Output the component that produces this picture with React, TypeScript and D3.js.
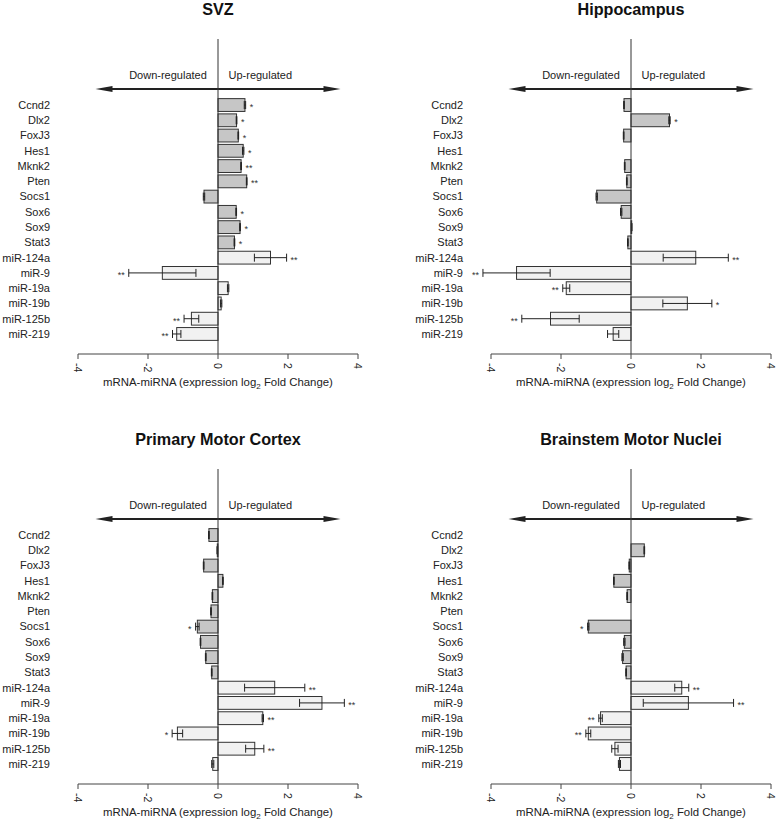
import React from "react";
import * as d3 from "d3";

const categories = ["Ccnd2","Dlx2","FoxJ3","Hes1","Mknk2","Pten","Socs1","Sox6","Sox9","Stat3","miR-124a","miR-9","miR-19a","miR-19b","miR-125b","miR-219"];
const isMiRNA = [false,false,false,false,false,false,false,false,false,false,true,true,true,true,true,true];
const ticks = [-4,-2,0,2,4];

const svzValues = [0.77,0.53,0.58,0.72,0.66,0.82,-0.40,0.52,0.63,0.47,1.50,-1.59,0.29,0.09,-0.76,-1.18];
const svzErr = [0.02,0.01,0.01,0.02,0.01,0.01,0.02,0.01,0.01,0.01,0.46,0.96,0.02,0.02,0.21,0.12];
const svzSig = ["*","*","*","*","**","**","","*","*","*","**","**","","","**","**"];

const hipValues = [-0.20,1.10,-0.21,0.0,-0.18,-0.12,-0.98,-0.28,0.02,-0.09,1.85,-3.27,-1.85,1.61,-2.30,-0.51];
const hipErr = [0.01,0.02,0.01,0,0.01,0.01,0.02,0.02,0.01,0.01,0.93,0.96,0.10,0.70,0.82,0.16];
const hipSig = ["","*","","","","","","","","","**","**","**","*","**",""];

const pmcValues = [-0.26,-0.02,-0.41,0.14,-0.16,-0.20,-0.59,-0.50,-0.35,-0.18,1.62,2.97,1.28,-1.16,1.05,-0.15];
const pmcErr = [0.01,0.01,0.01,0.01,0.01,0.01,0.05,0.01,0.01,0.01,0.86,0.64,0.02,0.15,0.26,0.03];
const pmcSig = ["","","","","","","*","","","","**","**","**","*","**",""];

const bmnValues = [0.0,0.38,-0.05,-0.49,-0.11,0.0,-1.22,-0.19,-0.24,-0.14,1.45,1.64,-0.87,-1.22,-0.46,-0.33];
const bmnErr = [0,0.01,0.01,0.01,0.01,0,0.02,0.02,0.02,0.01,0.20,1.29,0.05,0.07,0.09,0.03];
const bmnSig = ["","","","","","","*","","","","**","**","**","**","",""];

const FONT = "'Liberation Sans', Arial, Helvetica, sans-serif";

function Panel({ title, values, errs, sigs, cx, oy }) {
  const x = d3.scaleLinear().domain([-4, 4]).range([cx - 140, cx + 140]);
  const y = d3.scaleBand().domain(categories).range([oy + 97.4, oy + 341.6]).paddingInner(0.16).paddingOuter(0.08);
  const bh = y.bandwidth();
  const axisY = oy + 354;
  const arrowY = oy + 89;
  const xl = x(-3.5), xr = x(3.5);
  const headL = 17, headW = 3;
  return (
    <g>
      <text x={x(0)} y={oy + 15} textAnchor="middle" fontFamily={FONT} fontWeight="bold" fontSize={16.2} fill="#111">{title}</text>
      <text x={x(-0.32)} y={oy + 79} textAnchor="end" fontFamily={FONT} fontSize={11} fill="#222">Down-regulated</text>
      <text x={x(0.3)} y={oy + 79} textAnchor="start" fontFamily={FONT} fontSize={11} fill="#222">Up-regulated</text>
      <line x1={xl + headL - 2} x2={xr - headL + 2} y1={arrowY} y2={arrowY} stroke="#222" strokeWidth={1.8} />
      <polygon points={`${xl},${arrowY} ${xl + headL},${arrowY - headW} ${xl + headL},${arrowY + headW}`} fill="#222" />
      <polygon points={`${xr},${arrowY} ${xr - headL},${arrowY - headW} ${xr - headL},${arrowY + headW}`} fill="#222" />
      {categories.map((c, i) => {
        const v = values[i];
        const yy = y(c);
        const x0 = x(Math.min(0, v));
        const w = Math.abs(x(v) - x(0));
        return (
          <g key={c}>
            <text x={x(0) - 168} y={yy + bh / 2} dy="0.35em" textAnchor="end" fontFamily={FONT} fontSize={11} fill="#222">{c}</text>
            {w > 0.01 && (
              <rect x={x0} y={yy} width={w} height={bh} fill={isMiRNA[i] ? "#f1f1f1" : "#c6c6c6"} stroke="#333" strokeWidth={1} />
            )}
          </g>
        );
      })}
      {categories.map((c, i) => {
        const v = values[i];
        const e = errs[i];
        const cy = y(c) + bh / 2;
        if (e <= 0) return null;
        const lo = x(v - e), hi = x(v + e);
        return (
          <g key={c + "e"} stroke="#222" strokeWidth={1}>
            <line x1={lo} x2={hi} y1={cy} y2={cy} />
            <line x1={lo} x2={lo} y1={cy - 4} y2={cy + 4} />
            <line x1={hi} x2={hi} y1={cy - 4} y2={cy + 4} />
          </g>
        );
      })}
      {categories.map((c, i) => {
        const s = sigs[i];
        if (!s) return null;
        const v = values[i];
        const e = errs[i];
        const cy = y(c) + bh / 2;
        const pos = v >= 0;
        const xe = pos ? x(v + e) + 4 : x(v - e) - 4;
        return (
          <text key={c + "s"} x={xe} y={cy + 5} textAnchor={pos ? "start" : "end"} fontFamily={FONT} fontSize={9} fill="#333">{s}</text>
        );
      })}
      <line x1={x(0)} x2={x(0)} y1={oy + 39} y2={axisY} stroke="#333" strokeWidth={1} />
      <line x1={x(-4)} x2={x(4)} y1={axisY} y2={axisY} stroke="#444" strokeWidth={1} />
      {ticks.map((t) => (
        <g key={t}>
          <line x1={x(t)} x2={x(t)} y1={axisY} y2={axisY + 5} stroke="#444" strokeWidth={1} />
          <text transform={`translate(${x(t)},${axisY + 9}) rotate(90)`} dominantBaseline="central" textAnchor="start" fontFamily={FONT} fontSize={10.5} fill="#222">{t}</text>
        </g>
      ))}
      <text x={x(0)} y={oy + 386} textAnchor="middle" fontFamily={FONT} fontSize={11.4} fill="#222">
        mRNA-miRNA (expression log<tspan fontSize={8} dy={3}>2</tspan><tspan dy={-3}> Fold Change)</tspan>
      </text>
    </g>
  );
}

export default function App() {
  return (
    <svg width={778} height={821} style={{ position: "absolute", left: 0, top: 0, background: "#fff" }}>
      <rect width={778} height={821} fill="#fff" />
      <Panel title="SVZ" values={svzValues} errs={svzErr} sigs={svzSig} cx={218} oy={0} />
      <Panel title="Hippocampus" values={hipValues} errs={hipErr} sigs={hipSig} cx={631} oy={0} />
      <Panel title="Primary Motor Cortex" values={pmcValues} errs={pmcErr} sigs={pmcSig} cx={218} oy={430} />
      <Panel title="Brainstem Motor Nuclei" values={bmnValues} errs={bmnErr} sigs={bmnSig} cx={631} oy={430} />
    </svg>
  );
}
